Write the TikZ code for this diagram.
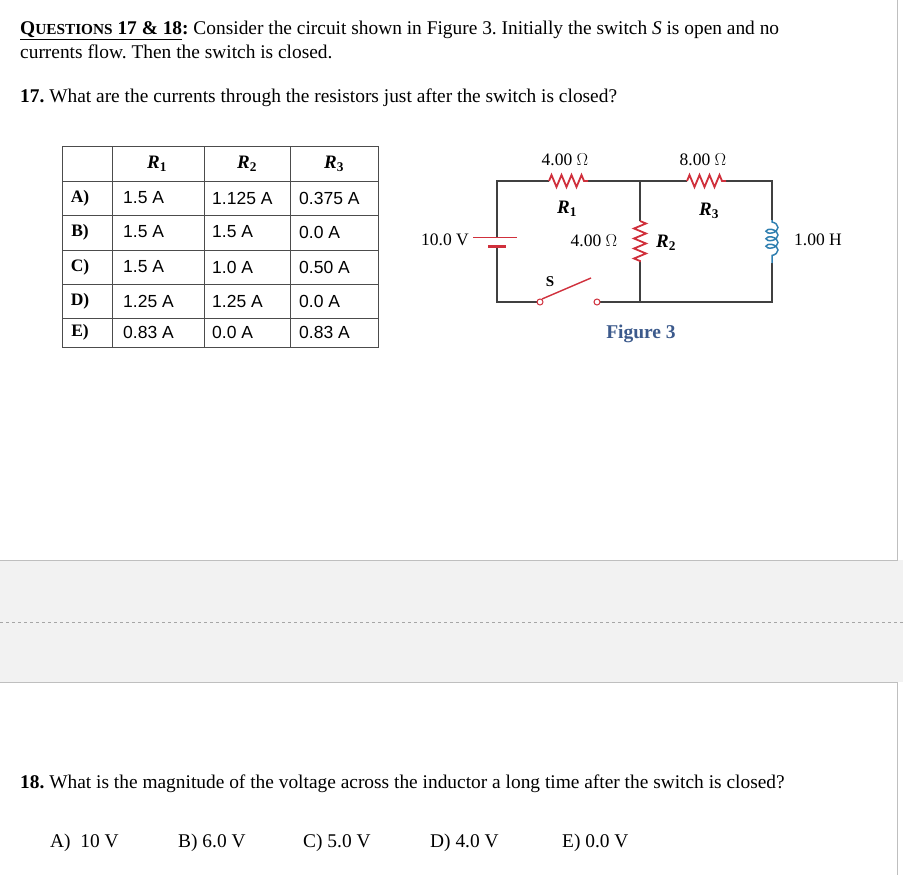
\documentclass[tikz,border=0pt]{standalone}
\usepackage{fontspec}
\setmainfont{Liberation Serif}
\setsansfont{Liberation Sans}
\usetikzlibrary{decorations.pathmorphing}
\definecolor{rred}{HTML}{D0303C}
\definecolor{lblue}{HTML}{2F7FB0}
\definecolor{figc}{HTML}{3C5A8C}
\frenchspacing
\begin{document}
\begin{tikzpicture}[x=1pt,y=-1pt,
  txt/.style={anchor=west,inner sep=0,font=\fontsize{19.4}{22}\selectfont},
  cell/.style={anchor=west,inner sep=0,font=\sffamily\fontsize{17.5}{20}\selectfont},
  hd/.style={inner sep=0,font=\bfseries\itshape\fontsize{19}{21}\selectfont},
  lab/.style={inner sep=0,font=\fontsize{17.5}{20}\selectfont},
  rlab/.style={inner sep=0,font=\bfseries\itshape\fontsize{19}{21}\selectfont},
  wire/.style={line width=1.1pt,black!75},
  res/.style={rred,line width=1.8pt,decorate,decoration={zigzag,segment length=10pt,amplitude=6pt}}]
\useasboundingbox (0,0) rectangle (903,875);
\fill[white] (0,0) rectangle (903,875);
% gray band
\fill[black!5] (0,560) rectangle (903,682);
\draw[black!25] (0,560) -- (897,560) -- (897,0);
\draw[black!25] (0,682) -- (897,682) -- (897,875);
\draw[black!35,dashed] (0,622) -- (903,622);
% header text
\node[txt] (t1) at (20,30) {\underline{\textbf{Q\fontsize{15.3}{18}\selectfont UESTIONS\fontsize{19.4}{22}\selectfont{} 17 \& 18}}\textbf{:} Consider the circuit shown in Figure 3. Initially the switch \textit{S} is open and no};
\node[txt] (t2) at (20,52) {currents flow. Then the switch is closed.};
\node[txt] (t3) at (20,98) {\textbf{17.} What are the currents through the resistors just after the switch is closed?};
% table
\draw[black!70,line width=0.6pt] (62,146) rectangle (378,347);
\foreach \y in {181,215,250,284,318} \draw[black!70,line width=0.6pt] (62,\y) -- (378,\y);
\foreach \x in {112,204,290} \draw[black!70,line width=0.6pt] (\x,146) -- (\x,347);
\node[hd] (h1) at (157,164) {R$_\mathbf{1}$};
\node[hd] (h2) at (247,164) {R$_\mathbf{2}$};
\node[hd] (h3) at (334,164) {R$_\mathbf{3}$};
\foreach \y/\a/\b/\c/\d in {198/A)/1.5 A/1.125 A/0.375 A, 232/B)/1.5 A/1.5 A/0.0 A, 267/C)/1.5 A/1.0 A/0.50 A, 301/D)/1.25 A/1.25 A/0.0 A, 332/E)/0.83 A/0.0 A/0.83 A}{
  \node[inner sep=0,font=\bfseries\fontsize{17.5}{20}\selectfont] at (80,\y) {\a};
  \node[cell] at (123,\y) {\b};
  \node[cell] at (212,\y) {\c};
  \node[cell] at (299,\y) {\d};
}
% circuit
\coordinate (tl) at (497,181); \coordinate (tm) at (640,181); \coordinate (tr) at (772,181);
\coordinate (bl) at (497,302); \coordinate (bm) at (640,302); \coordinate (br) at (772,302);
\coordinate (r1a) at (549,181); \coordinate (r1b) at (588,181);
\coordinate (r3a) at (687,181); \coordinate (r3b) at (726,181);
\coordinate (r2a) at (640,221); \coordinate (r2b) at (640,262);
\coordinate (la) at (772,220); \coordinate (lb) at (772,263);
\coordinate (bp) at (497,237); \coordinate (bn) at (497,246);
\draw[wire] (r1a) -- (tl) -- (bp);
\draw[wire] (r1b) -- (tm) -- (r3a);
\draw[wire] (r3b) -- (tr) -- (la);
\draw[wire] (tm) -- (r2a); \draw[wire] (r2b) -- (bm);
\draw[wire] (lb) -- (br) -- (bm) -- (595,302);
\draw[wire] (bn) -- (bl) -- (538,302);
\draw[res] (r1a) -- (r1b);
\draw[res] (r3a) -- (r3b);
\draw[res] (r2a) -- (r2b);
\draw[rred,line width=0.9pt] (473,237) -- (517,237);
\draw[rred,line width=3pt] (488,246) -- (506,246);
\draw[lblue,line width=1.5pt,decorate,decoration={coil,aspect=0.6,segment length=7.5pt,amplitude=6pt,pre length=2pt,post length=2pt}] (la) -- (lb);
\draw[rred,line width=1.4pt] (542,299) -- (591,278);
\node[circle,draw=rred,line width=1pt,fill=white,inner sep=0,minimum size=6pt] (s1) at (540,302) {};
\node[circle,draw=rred,line width=1pt,fill=white,inner sep=0,minimum size=6pt] (s2) at (597,302) {};
\node[inner sep=0,font=\bfseries\fontsize{15}{17}\selectfont] (S) at (550,282) {S};
\node[lab] (v) at (445,240) {10.0 V};
\node[lab] (o1) at (565,160) {4.00 $\Omega$};
\node[lab] (o3) at (703,160) {8.00 $\Omega$};
\node[lab] (o2) at (594,241) {4.00 $\Omega$};
\node[lab] (hh) at (818,240) {1.00 H};
\node[rlab] (l1) at (567,209) {R$_\mathbf{1}$};
\node[rlab] (l3) at (709,211) {R$_\mathbf{3}$};
\node[rlab] (l2) at (666,243) {R$_\mathbf{2}$};
\node[inner sep=0,text=figc,font=\bfseries\fontsize{19.5}{22}\selectfont] (fig) at (641,334) {Figure 3};
% question 18
\node[txt] (q18) at (20,784) {\textbf{18.} What is the magnitude of the voltage across the inductor a long time after the switch is closed?};
\node[txt] (a) at (50,843) {A)\ \ 10 V};
\node[txt] (b) at (178,843) {B) 6.0 V};
\node[txt] (c) at (303,843) {C) 5.0 V};
\node[txt] (d) at (430,843) {D) 4.0 V};
\node[txt] (e) at (562,843) {E) 0.0 V};
\end{tikzpicture}
\end{document}
